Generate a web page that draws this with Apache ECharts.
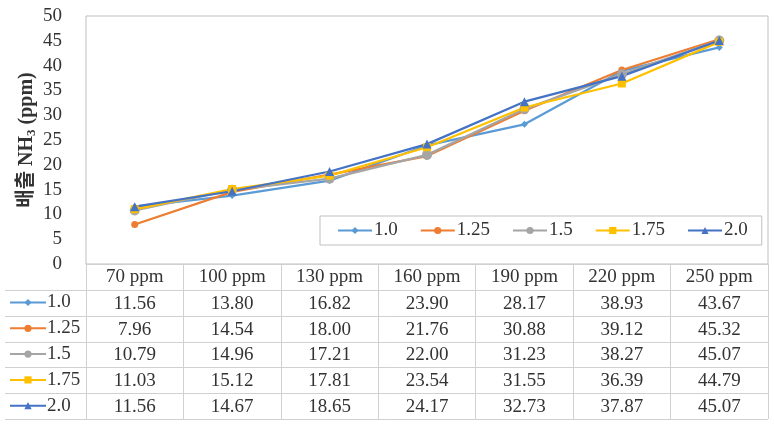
<!DOCTYPE html>
<html>
<head>
<meta charset="utf-8">
<script src="https://cdn.jsdelivr.net/npm/echarts@6/dist/echarts.min.js"></script>
<style>
  html, body { margin: 0; padding: 0; background: #fff; }
  #chart { width: 774px; height: 425px; }
</style>
</head>
<body>
<div id="chart"></div>
<script>
    var categories = ['70 ppm', '100 ppm', '130 ppm', '160 ppm', '190 ppm', '220 ppm', '250 ppm'];
    var seriesNames = ['1.0', '1.25', '1.5', '1.75', '2.0'];
    var s10 = [11.56, 13.80, 16.82, 23.90, 28.17, 38.93, 43.67];
    var s125 = [7.96, 14.54, 18.00, 21.76, 30.88, 39.12, 45.32];
    var s15 = [10.79, 14.96, 17.21, 22.00, 31.23, 38.27, 45.07];
    var s175 = [11.03, 15.12, 17.81, 23.54, 31.55, 36.39, 44.79];
    var s20 = [11.56, 14.67, 18.65, 24.17, 32.73, 37.87, 45.07];
    var yTicks = [0, 50, 5]; // min, max, interval

    var values = [s10, s125, s15, s175, s20];
    var colors = ['#5B9BD5', '#ED7D31', '#A5A5A5', '#FFC000', '#4472C4'];
    var symbols = ['diamond', 'circle', 'circle', 'rect', 'triangle'];
    var symbolSizes = [7, 7, 10, 8, 9];

    var font = "'Liberation Serif', 'Noto Sans CJK KR', serif";
    var textColor = '#333';
    var lineColor = '#d0d0d0';

    // layout of plot and table
    var gridLeft = 86, gridRight = 768, gridTop = 16, gridBottom = 264;
    var headerH = 26, rowH = 25.8, tableLeft = 5;
    var colW = (gridRight - gridLeft) / categories.length;

    var chart = echarts.init(document.getElementById('chart'));

    var series = seriesNames.map(function (name, i) {
        return {
            name: name,
            type: 'line',
            data: values[i],
            symbol: symbols[i],
            symbolSize: symbolSizes[i],
            showAllSymbol: true,
            itemStyle: { color: colors[i] },
            lineStyle: { color: colors[i], width: 2.25 },
            emphasis: { disabled: true }
        };
    });

    // main legend plus one legend per table row (row headers)
    var legends = [{
        data: seriesNames,
        left: 320,
        top: 216,
        borderColor: '#bfbfbf',
        borderWidth: 1,
        padding: [5, 14, 5, 17],
        itemGap: 22,
        itemWidth: 34,
        itemHeight: 9,
        selectedMode: false,
        textStyle: { fontFamily: font, fontSize: 19, color: textColor, padding: [0, 0, 0, -3] }
    }];
    seriesNames.forEach(function (name, i) {
        legends.push({
            data: [name],
            left: 9,
            top: gridBottom + headerH + rowH * i + 3,
            padding: 0,
            itemWidth: 36,
            itemHeight: 9,
            selectedMode: false,
            textStyle: { fontFamily: font, fontSize: 19, color: textColor, padding: [0, 0, 0, -4] }
        });
    });

    // table: horizontal rules and cell values
    var graphics = [];
    for (var r = 0; r <= seriesNames.length; r++) {
        var y = Math.round(gridBottom + headerH + rowH * r) + 0.5;
        graphics.push({
            type: 'line',
            shape: { x1: tableLeft, y1: y, x2: gridRight, y2: y },
            style: { stroke: lineColor, lineWidth: 1 },
            silent: true
        });
    }
    values.forEach(function (row, i) {
        row.forEach(function (v, j) {
            graphics.push({
                type: 'text',
                x: gridLeft + colW * (j + 0.5),
                y: gridBottom + headerH + rowH * (i + 0.5) + 1,
                style: {
                    text: v.toFixed(2),
                    fontFamily: font,
                    fontSize: 19,
                    fill: textColor,
                    align: 'center',
                    verticalAlign: 'middle'
                },
                silent: true
            });
        });
    });

    chart.setOption({
        animation: false,
        color: colors,
        grid: {
            left: gridLeft,
            right: 774 - gridRight,
            top: gridTop,
            bottom: 425 - gridBottom,
            show: true,
            borderColor: '#bfbfbf',
            borderWidth: 1
        },
        legend: legends,
        xAxis: {
            type: 'category',
            data: categories,
            boundaryGap: true,
            axisLine: { show: true, lineStyle: { color: lineColor } },
            axisTick: { show: true, length: 155, lineStyle: { color: lineColor } },
            axisLabel: { fontFamily: font, fontSize: 19, color: textColor, margin: 4, interval: 0 }
        },
        yAxis: {
            type: 'value',
            min: yTicks[0],
            max: yTicks[1],
            interval: yTicks[2],
            splitLine: { show: false },
            axisLine: { show: false },
            axisTick: { show: false },
            axisLabel: { fontFamily: font, fontSize: 19, color: textColor, margin: 24 },
            name: '배출 NH{sub|3} (ppm)',
            nameLocation: 'middle',
            nameRotate: 90,
            nameGap: 48,
            nameMoveOverlap: false,
            nameTextStyle: {
                fontFamily: font,
                fontSize: 20,
                fontWeight: 'bold',
                color: textColor,
                rich: {
                    sub: { fontFamily: font, fontSize: 13, fontWeight: 'bold', color: textColor, verticalAlign: 'bottom', padding: [9, 0, 0, 0] }
                }
            }
        },
        series: series,
        graphic: graphics
    });
</script>
</body>
</html>
